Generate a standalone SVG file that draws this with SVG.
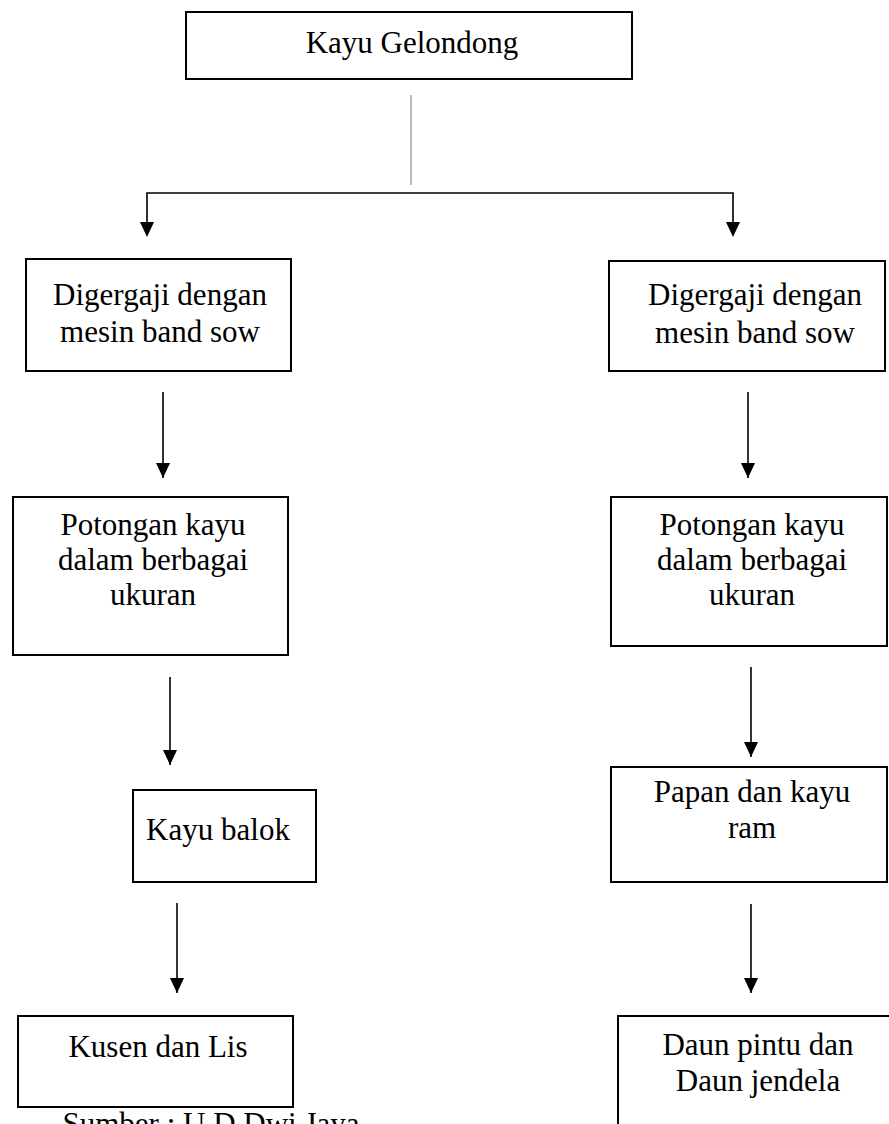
<svg xmlns="http://www.w3.org/2000/svg" width="889" height="1124" viewBox="0 0 889 1124">
<defs>
<marker id="ah" markerUnits="userSpaceOnUse" markerWidth="15" markerHeight="14" viewBox="0 0 15 14" refX="15" refY="7" orient="auto">
<path d="M0,0 L15,7 L0,14 Z" fill="#000"/>
</marker>
<style>
.box{fill:#fff;stroke:#000;stroke-width:2}
.t{font-family:'Liberation Serif','DejaVu Serif',serif;font-size:31px;fill:#000;text-anchor:middle}
.c{fill:none;stroke:#000;stroke-width:1.6}
</style>
</defs>
<rect width="889" height="1124" fill="#fff"/>
<g id="connectors">
<path d="M411,95 V185" fill="none" stroke="#777" stroke-width="1"/>
<path class="c" d="M147,222 V193 H733 V222"/>
<path d="M140,222 L154,222 L147,237 Z" fill="#000"/>
<path d="M726,222 L740,222 L733,237 Z" fill="#000"/>
<path class="c" d="M163,392 V478" marker-end="url(#ah)"/>
<path class="c" d="M748,392 V478" marker-end="url(#ah)"/>
<path class="c" d="M170,677 V765" marker-end="url(#ah)"/>
<path class="c" d="M751,667 V757" marker-end="url(#ah)"/>
<path class="c" d="M177,903 V993" marker-end="url(#ah)"/>
<path class="c" d="M751,904 V993" marker-end="url(#ah)"/>
</g>
<g id="n_top">
<rect class="box" x="186" y="12" width="446" height="67"/>
<text class="t" font-family="Liberation Serif, serif" x="412" y="53">Kayu Gelondong</text>
</g>
<g id="n_l1">
<rect class="box" x="26" y="259" width="265" height="112"/>
<text class="t" font-family="Liberation Serif, serif" x="160" y="305">Digergaji dengan</text>
<text class="t" font-family="Liberation Serif, serif" x="160" y="342">mesin band sow</text>
</g>
<g id="n_r1">
<rect class="box" x="609" y="261" width="276" height="110"/>
<text class="t" font-family="Liberation Serif, serif" x="755" y="305">Digergaji dengan</text>
<text class="t" font-family="Liberation Serif, serif" x="755" y="343">mesin band sow</text>
</g>
<g id="n_l2">
<rect class="box" x="13" y="497" width="275" height="158"/>
<text class="t" font-family="Liberation Serif, serif" x="153" y="535">Potongan kayu</text>
<text class="t" font-family="Liberation Serif, serif" x="153" y="570">dalam berbagai</text>
<text class="t" font-family="Liberation Serif, serif" x="153" y="605">ukuran</text>
</g>
<g id="n_r2">
<rect class="box" x="611" y="497" width="276" height="149"/>
<text class="t" font-family="Liberation Serif, serif" x="752" y="535">Potongan kayu</text>
<text class="t" font-family="Liberation Serif, serif" x="752" y="570">dalam berbagai</text>
<text class="t" font-family="Liberation Serif, serif" x="752" y="605">ukuran</text>
</g>
<g id="n_l3">
<rect class="box" x="133" y="790" width="183" height="92"/>
<text class="t" font-family="Liberation Serif, serif" x="218" y="840">Kayu balok</text>
</g>
<g id="n_r3">
<rect class="box" x="611" y="767" width="276" height="115"/>
<text class="t" font-family="Liberation Serif, serif" x="752" y="802">Papan dan kayu</text>
<text class="t" font-family="Liberation Serif, serif" x="752" y="838">ram</text>
</g>
<g id="n_l4">
<rect class="box" x="18" y="1016" width="275" height="91"/>
<text class="t" font-family="Liberation Serif, serif" x="158" y="1057">Kusen dan Lis</text>
</g>
<g id="n_r4">
<rect class="box" x="618" y="1016" width="280" height="120"/>
<text class="t" font-family="Liberation Serif, serif" x="758" y="1055">Daun pintu dan</text>
<text class="t" font-family="Liberation Serif, serif" x="758" y="1091">Daun jendela</text>
</g>
<g id="caption">
<text class="t" font-family="Liberation Serif, serif" x="211" y="1134">Sumber : U.D Dwi Jaya</text>
</g>
</svg>
